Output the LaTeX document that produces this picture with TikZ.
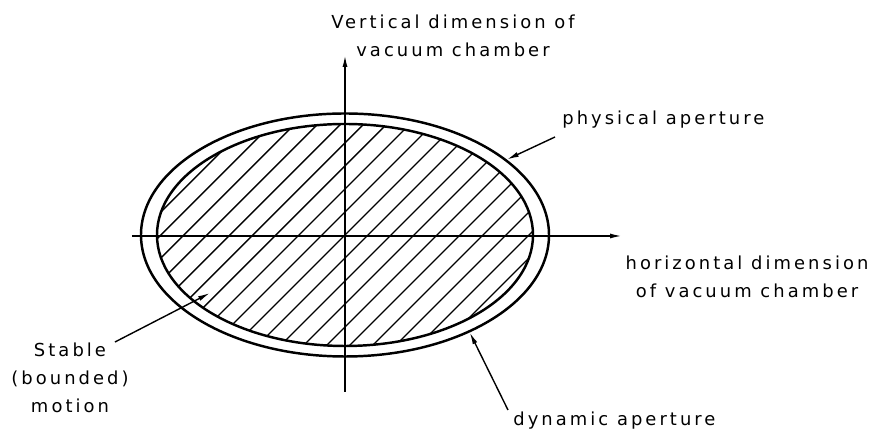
\documentclass[tikz,border=0pt]{standalone}
\usepackage{fontspec}
\setmainfont{DejaVu Sans}[LetterSpace=17]
\usetikzlibrary{arrows.meta,shapes.geometric}

\begin{document}
\begin{tikzpicture}[
    lbl/.style={font=\fontsize{10.2}{16}\selectfont, align=center, inner sep=0pt},
    aper/.style={draw, ellipse, line width=1.4pt, inner sep=0pt},
    tipped/.style={-{Latex[length=2.4mm,width=1mm]}},
    lead/.style={line width=0.8pt, tipped}]
  \useasboundingbox (-6.9,-4.06) rectangle (10.6,4.7);
  % hatched stable region
  \begin{scope}
    \clip (0,0) ellipse (3.76 and 2.22);
    \foreach \k in {-2,...,18}
      \draw[line width=0.8pt] ({-3.68+0.46*\k-5},-5) -- ++(10,10);
  \end{scope}
  \node[aper, minimum width=7.52cm, minimum height=4.44cm] (dynap) at (0,0) {};
  \node[aper, minimum width=8.16cm, minimum height=4.86cm] (physap) at (0,0) {};
  % axes
  \coordinate (hleft) at (-4.26,-0.02);
  \coordinate (hright) at (5.54,-0.02);
  \coordinate (vbot) at (0,-3.14);
  \coordinate (vtop) at (0,3.6);
  \draw[line width=0.9pt, tipped] (hleft) -- (hright);
  \draw[line width=0.9pt, tipped] (vbot) -- (vtop);
  % labels
  \node[lbl] (vert) at (2.16,3.98) {Vertical dimension of\\vacuum chamber};
  \node[lbl] (horiz) at (8.04,-0.84) {horizontal dimension\\of vacuum chamber};
  \node[lbl, anchor=west] (phys) at (4.34,2.3) {physical aperture};
  \node[lbl, anchor=west] (dyn) at (3.36,-3.72) {dynamic aperture};
  \node[lbl] (stable) at (-5.5,-2.86) {Stable\\(\,bounded\,)\\motion};
  % leaders
  \coordinate (physfoot) at (4.2,1.96);
  \coordinate (dynfoot) at (3.26,-3.5);
  \coordinate (stablefoot) at (-4.6,-2.14);
  \coordinate (stabletip) at (-2.7,-1.16);
  \draw[lead] (physfoot) -- (physap.25);
  \draw[lead] (dynfoot) -- (physap.-38);
  \draw[lead] (stablefoot) -- (stabletip);
\end{tikzpicture}
\end{document}
